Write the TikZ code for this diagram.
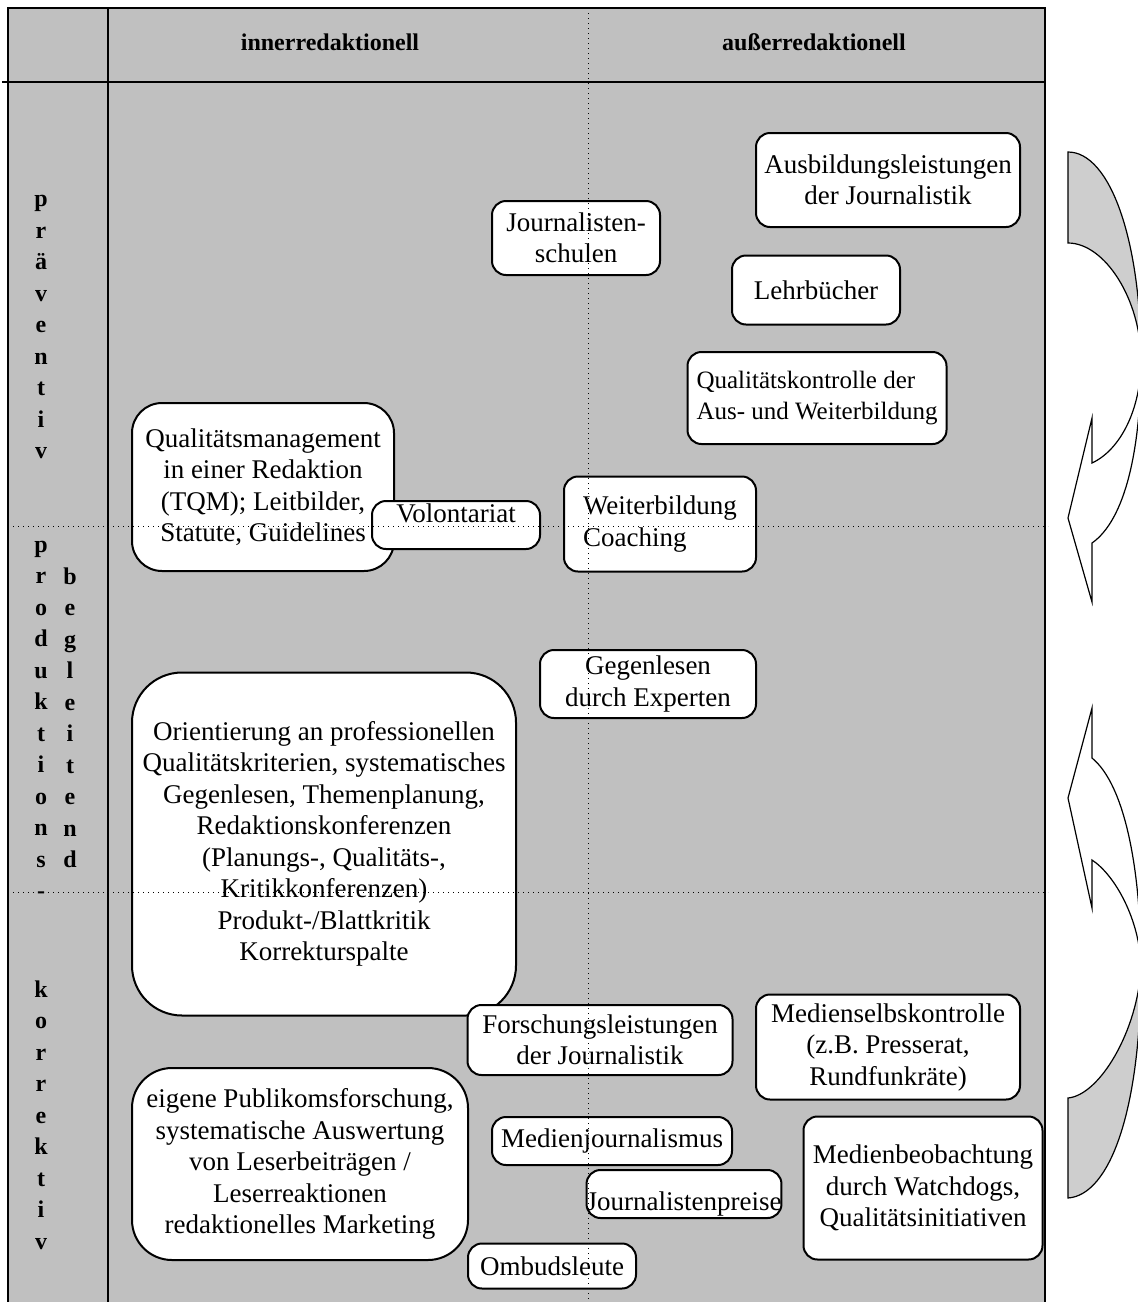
\documentclass[tikz,border=0pt]{standalone}
\usepackage{fontspec}
\setmainfont{Liberation Serif}
\definecolor{tablegray}{RGB}{192,192,192}
\definecolor{arrowgray}{RGB}{206,206,206}

\begin{document}
\begin{tikzpicture}[x=0.5pt,y=-0.5pt]
\tikzset{
  textbox/.style={draw,fill=white,line width=1pt,rounded corners=7pt,align=center,inner sep=1pt,font=\fontsize{13.5}{15.75}\selectfont},
  sidelabel/.style={align=center,inner sep=0pt,font=\fontsize{12}{15.75}\selectfont\bfseries},
  headlabel/.style={inner sep=0pt,font=\fontsize{12}{14}\selectfont\bfseries},
  frame/.style={line width=1pt},
  gridline/.style={dotted,line width=0.5pt},
  bendarrow/.style={line width=0.6pt,line join=miter}
}
\useasboundingbox (0,0) rectangle (1138,1302);
\clip (0,0) rectangle (1138,1302);
% table
\fill[tablegray] (8,8) rectangle (1045,1310);
\draw[frame] (8,1310) -- (8,8) -- (1045,8) -- (1045,1310);
\draw[frame] (108,8) -- (108,1310);
\draw[frame] (2,82) -- (1045,82);
\node[headlabel] (h_inner) at (330,42) {innerredaktionell};
\node[headlabel] (h_ausser) at (814,42) {außerredaktionell};
\node[sidelabel] (s_praev) at (41,327) {p\\r\\ä\\v\\e\\n\\t\\i\\v};
\node[sidelabel] (s_prod) at (41,720) {p\\r\\o\\d\\u\\k\\t\\i\\o\\n\\s\\-};
\node[sidelabel] (s_begl) at (70,718) {b\\e\\g\\l\\e\\i\\t\\e\\n\\d};
\node[sidelabel] (s_korr) at (41,1115) {k\\o\\r\\r\\e\\k\\t\\i\\v};
% boxes
\node[textbox,minimum width=132pt,minimum height=47pt] (b_ausb) at (888,180) {Ausbildungsleistungen\\der Journalistik};
\node[textbox,minimum width=84pt,minimum height=37pt] (b_schulen) at (576,238) {Journalisten-\\schulen};
\node[textbox,minimum width=84pt,minimum height=34.5pt] (b_lehr) at (816,290) {Lehrbücher};
\node[textbox,align=left,font=\fontsize{12.5}{15.75}\selectfont,minimum width=129.5pt,minimum height=46pt] (b_qkontr) at (817,398) {Qualitätskontrolle der\\Aus- und Weiterbildung};
\node[textbox,rounded corners=15pt,minimum width=131pt,minimum height=84pt] (b_qm) at (263,487) {Qualitätsmanagement\\in einer Redaktion\\(TQM); Leitbilder,\\Statute, Guidelines};
\node[textbox,minimum width=84pt,text height=9pt,text depth=12pt,inner ysep=1.5pt] (b_volo) at (456,525) {Volontariat};
\node[textbox,align=left,minimum width=96pt,minimum height=47.5pt] (b_weiter) at (660,524) {Weiterbildung\\Coaching};
\node[textbox,minimum width=108pt,minimum height=34pt] (b_gegen) at (648,684) {Gegenlesen\\durch Experten};
\node[textbox,rounded corners=25pt,minimum width=192pt,minimum height=171.5pt] (b_orient) at (324,844) {Orientierung an professionellen\\Qualitätskriterien, systematisches\\Gegenlesen, Themenplanung,\\Redaktionskonferenzen\\(Planungs-, Qualitäts-,\\Kritikkonferenzen)\\Produkt-/Blattkritik\\Korrekturspalte};
\node[textbox,minimum width=132.5pt,minimum height=35pt] (b_forsch) at (600,1040) {Forschungsleistungen\\der Journalistik};
\node[textbox,minimum width=132pt,minimum height=52.5pt] (b_mselbst) at (888,1047) {Medienselbskontrolle\\(z.B. Presserat,\\Rundfunkräte)};
\node[textbox,rounded corners=20pt,minimum width=168pt,minimum height=96pt] (b_publ) at (300,1164) {eigene Publikomsforschung,\\systematische Auswertung\\von Leserbeiträgen /\\Leserreaktionen\\redaktionelles Marketing};
\node[textbox,minimum width=120pt,minimum height=24pt] (b_mjourn) at (612,1141) {Medienjournalismus};
\node[textbox,minimum width=96pt,text height=19pt,text depth=3pt,inner ysep=1pt,inner xsep=0pt] (b_preise) at (684,1194) {Journalistenpreise};
\node[textbox,minimum width=84pt,minimum height=22.5pt] (b_ombud) at (552,1266) {Ombudsleute};
\node[textbox,minimum width=119.5pt,minimum height=71.5pt] (b_mbeob) at (923,1188) {Medienbeobachtung\\durch Watchdogs,\\Qualitätsinitiativen};
% dotted grid on top
\draw[gridline] (588,8) -- (588,1310);
\draw[gridline] (8,526) -- (1048,526);
\draw[gridline] (8,892) -- (1048,892);
% bent arrows right
\filldraw[bendarrow,fill=arrowgray] (1068,152) .. controls (1110,152) and (1141,240) .. (1141,360) .. controls (1141,300) and (1105,243) .. (1068,243) -- cycle;
\filldraw[bendarrow,fill=white] (1141,360) .. controls (1141,410) and (1120,450) .. (1092,463) -- (1092,418) -- (1068,518) -- (1092,602) -- (1092,543) .. controls (1125,520) and (1141,450) .. (1141,360) -- cycle;
\filldraw[bendarrow,fill=white] (1092,758) .. controls (1125,785) and (1141,870) .. (1141,967) .. controls (1140,920) and (1115,875) .. (1092,860) -- (1092,908) -- (1068,798) -- (1092,708) -- cycle;
\filldraw[bendarrow,fill=arrowgray] (1141,967) .. controls (1138,1030) and (1100,1095) .. (1068,1098) -- (1068,1198) .. controls (1110,1195) and (1141,1110) .. (1141,967) -- cycle;
\end{tikzpicture}
\end{document}
